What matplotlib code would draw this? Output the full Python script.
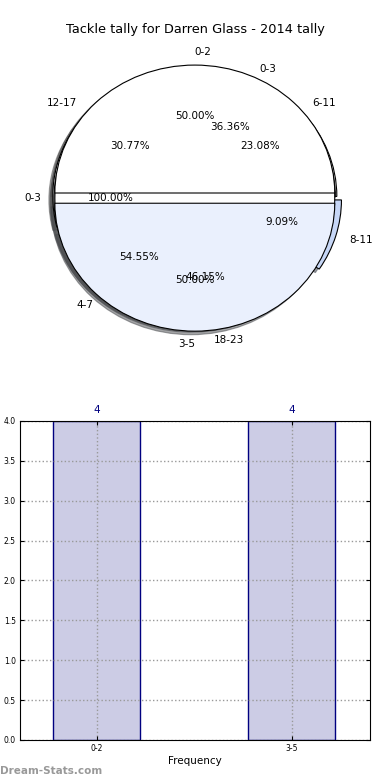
import matplotlib
matplotlib.use('Agg')
import matplotlib.pyplot as plt

# pies that were drawn on top of each other in the original
pie_a_labels = ['0-3']
pie_a_values = [1]
pie_b_labels = ['6-11', '12-17', '18-23']
pie_b_values = [3, 4, 6]
pie_c_labels = ['0-3', '4-7', '8-11']
pie_c_values = [4, 6, 1]
pie_d_labels = ['0-2', '3-5']
pie_d_values = [4, 4]

# histogram
bins = ['0-2', '3-5']
freq = [4, 4]

fig = plt.figure(figsize=(3.9, 7.8), dpi=100)

ax1 = fig.add_axes([0.051, 0.541, 0.897, 0.41])
txt = dict(fontsize=7.5)
wp = dict(linewidth=0.8, edgecolor='black')
ax1.pie(pie_b_values, labels=pie_b_labels, autopct='%1.2f%%',
        colors=['white', 'white', '#eaf0fd'],
        explode=[0.02] * 3, shadow=True, textprops=txt, wedgeprops=wp)
ax1.pie(pie_c_values, labels=pie_c_labels, autopct='%1.2f%%',
        colors=['white', '#eaf0fd', '#c6d6f6'],
        explode=[0.01, 0.01, 0.05], shadow=True, textprops=txt, wedgeprops=wp)
_, a_texts, _ = ax1.pie(pie_a_values, labels=pie_a_labels, autopct='%1.2f%%',
                        colors=['white'], shadow=True, textprops=txt, wedgeprops=wp)
_, d_texts, _ = ax1.pie(pie_d_values, labels=pie_d_labels, autopct='%1.2f%%',
                        colors=['white', '#eaf0fd'],
                        explode=[0.04, 0.04], shadow=True, textprops=txt, wedgeprops=wp)
# old matplotlib put the top label left-aligned and the bottom one right-aligned
d_texts[0].set_ha('left')
d_texts[1].set_ha('right')
ax1.set_aspect('auto')
ax1.set_xlim(-1.25, 1.25)
ax1.set_ylim(-1.25, 1.25)
fig.text(0.5, 0.962, 'Tackle tally for Darren Glass - 2014 tally',
         ha='center', va='center', fontsize=9.3)

ax2 = fig.add_axes([0.051, 0.0513, 0.897, 0.409])
xs = list(range(len(bins)))
ax2.bar(xs, freq, width=0.446, facecolor=(0.0, 0.0, 0.5, 0.2),
        edgecolor='navy', linewidth=1)
for x, v in zip(xs, freq):
    ax2.text(x, v + 0.07, str(v), ha='center', va='bottom', color='navy', fontsize=7.5)
ax2.set_xlim(-0.395, 1.4)
ax2.set_ylim(0, 4)
ax2.set_yticks([i * 0.5 for i in range(9)])
ax2.set_xticks(xs)
ax2.set_xticklabels(bins)
ax2.tick_params(labelsize=5.5, direction='in', top=True, right=True, length=3, pad=3)
ax2.grid(True, linestyle=':', color='#999999', linewidth=1)
ax2.set_xlabel('Frequency', fontsize=7.5, labelpad=2)

fig.text(0.0, 0.012, 'Dream-Stats.com', ha='left', va='center', fontsize=7.5,
         color='#999999', fontweight='bold')

fig.savefig('out.png', dpi=100)
